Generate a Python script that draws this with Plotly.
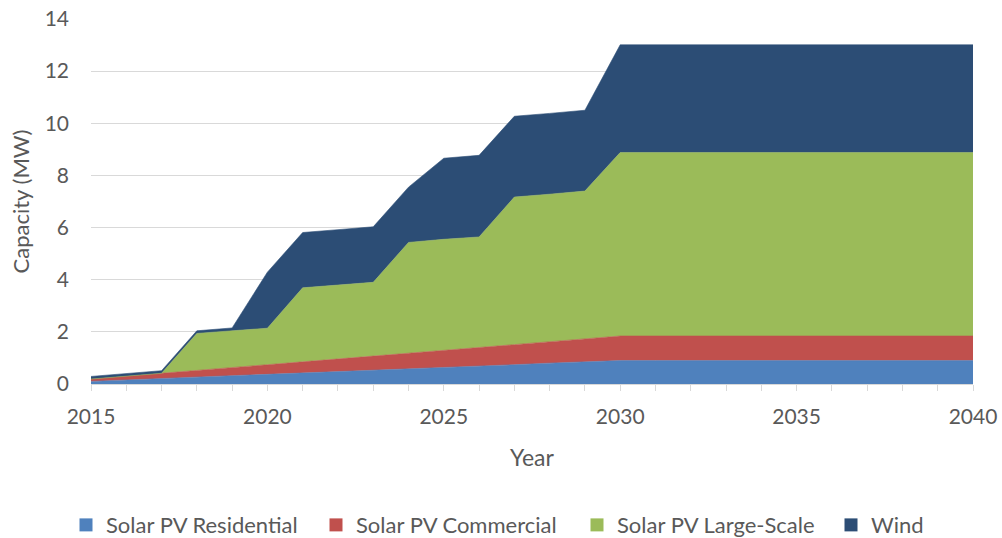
import plotly.graph_objects as go

years = list(range(2015, 2041))
residential = [0.10, 0.16, 0.21, 0.26, 0.32, 0.37, 0.42, 0.48, 0.53, 0.58, 0.64, 0.69, 0.74, 0.80, 0.85, 0.90,
               0.90, 0.90, 0.90, 0.90, 0.90, 0.90, 0.90, 0.90, 0.90, 0.90]
commercial = [0.09, 0.15, 0.20, 0.26, 0.32, 0.37, 0.43, 0.49, 0.54, 0.60, 0.66, 0.71, 0.77, 0.83, 0.88, 0.94,
              0.94, 0.94, 0.94, 0.94, 0.94, 0.94, 0.94, 0.94, 0.94, 0.94]
large_scale = [0.0, 0.0, 0.0, 1.42, 1.41, 1.40, 2.84, 2.83, 2.83, 4.25, 4.25, 4.24, 5.66, 5.65, 5.67, 7.04,
               7.04, 7.04, 7.04, 7.04, 7.04, 7.04, 7.04, 7.04, 7.04, 7.04]
wind = [0.10, 0.10, 0.10, 0.10, 0.10, 2.15, 2.12, 2.12, 2.13, 2.12, 3.11, 3.13, 3.10, 3.10, 3.10, 4.13,
        4.13, 4.13, 4.13, 4.13, 4.13, 4.13, 4.13, 4.13, 4.13, 4.13]

series_names = ["Solar PV Residential", "Solar PV Commercial", "Solar PV Large-Scale", "Wind"]
series_values = [residential, commercial, large_scale, wind]
series_colors = ["#4F81BD", "#C0504D", "#9BBB59", "#2C4D75"]
legend_text_x = [106, 356, 617, 871]  # pixel x where each legend label starts

font_family = "Lato, 'Open Sans', sans-serif"
grey = "#595959"

fig = go.Figure()
for name, vals, color in zip(series_names, series_values, series_colors):
    fig.add_trace(go.Scatter(
        x=years, y=vals, name=name, mode="lines",
        stackgroup="one", line=dict(width=0.6, color=color),
        fillcolor=color, showlegend=False, hoverinfo="skip",
    ))

legend_layouts = {}
for i, (name, color, tx) in enumerate(zip(series_names, series_colors, legend_text_x)):
    lg = "legend" if i == 0 else f"legend{i + 1}"
    fig.add_trace(go.Scatter(
        x=[None], y=[None], name=name, mode="markers",
        marker=dict(symbol="square", size=13, color=color),
        showlegend=True, legend=lg,
    ))
    legend_layouts[lg] = dict(
        orientation="h", xref="container", yref="container",
        x=(tx - 40) / 1002, xanchor="left", y=0.024, yanchor="middle",
        font=dict(size=22, color=grey, family=font_family), itemwidth=30,
        bgcolor="rgba(0,0,0,0)",
    )

fig.update_layout(
    width=1002, height=538,
    margin=dict(l=91, r=29, t=19, b=154),
    paper_bgcolor="white", plot_bgcolor="white",
    font=dict(family=font_family, size=21, color=grey),
    showlegend=True,
    xaxis=dict(
        range=[2015, 2040], tickmode="linear", tick0=2015, dtick=5,
        showgrid=False, showline=True, linecolor="#D9D9D9", linewidth=1,
        ticks="outside", ticklen=6, tickcolor="#D9D9D9",
        minor=dict(dtick=1, ticks="outside", ticklen=6, tickcolor="#D9D9D9", showgrid=False),
        ticklabelstandoff=8,
        title=dict(text="Year", font=dict(size=23, color=grey), standoff=22),
        tickfont=dict(size=21, color=grey), zeroline=False, automargin=False,
    ),
    yaxis=dict(
        range=[0, 14], tickmode="linear", dtick=2,
        showgrid=True, gridcolor="#D9D9D9", gridwidth=1,
        showline=False, zeroline=False, ticks="",
        ticklabelstandoff=21,
        title=dict(text="Capacity (MW)", font=dict(size=22, color=grey), standoff=8),
        tickfont=dict(size=21, color=grey), automargin=False,
    ),
    **legend_layouts,
)

fig.write_html("out.html", config={"displayModeBar": False},
               post_script="document.body.style.margin='0';document.body.style.padding='0';")
